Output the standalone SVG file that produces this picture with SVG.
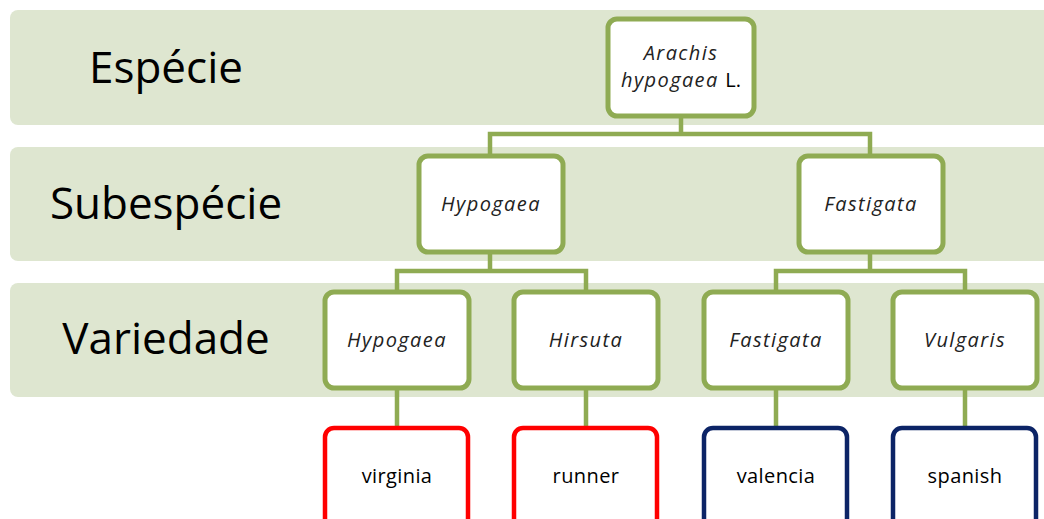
<svg xmlns="http://www.w3.org/2000/svg" width="1044" height="519" viewBox="0 0 1044 519">
<style>
.band{fill:#DEE6D0;}
.lvl{font-family:"Open Sans","Liberation Sans",sans-serif;font-size:44px;fill:#000;text-anchor:middle;}
.g{fill:#fff;stroke:#8FAB53;stroke-width:5;}
.r{fill:#fff;stroke:#FF0000;stroke-width:4.5;}
.b{fill:#fff;stroke:#0C2466;stroke-width:4.5;}
.t{font-family:"Open Sans","Liberation Sans",sans-serif;font-size:20px;letter-spacing:1.4px;font-style:italic;fill:#222;text-anchor:middle;}
.n{font-family:"Open Sans","Liberation Sans",sans-serif;font-size:20px;letter-spacing:0.4px;fill:#000;text-anchor:middle;}
.c{fill:none;stroke:#8FAB53;stroke-width:4.5;}
</style>
<rect class="band" x="10" y="10" width="1050" height="115" rx="8"/>
<rect class="band" x="10" y="147" width="1050" height="114" rx="8"/>
<rect class="band" x="10" y="283" width="1050" height="114" rx="8"/>
<text class="lvl" x="166" y="83">Espécie</text>
<text class="lvl" x="166" y="219">Subespécie</text>
<text class="lvl" x="166" y="354">Variedade</text>
<g id="connectors">
<path class="c" d="M681 116 V134 M490 155 V134 H870 V155"/>
<path class="c" d="M490 252 V271 M397 291 V271 H586 V291"/>
<path class="c" d="M870 252 V271 M776 291 V271 H965 V291"/>
<path class="c" d="M397 388 V428 M586 388 V428 M776 388 V428 M965 388 V428"/>
</g>
<g id="root"><rect class="g" x="608" y="19" width="146" height="97" rx="9"/>
<text class="t" x="681" y="60">Arachis</text>
<text class="t" x="681" y="87">hypogaea <tspan font-style="normal" fill="#000" letter-spacing="0">L.</tspan></text></g>
<g id="sub-hypogaea"><rect class="g" x="419" y="156" width="144" height="96" rx="9"/><text class="t" x="491" y="211">Hypogaea</text></g>
<g id="sub-fastigata"><rect class="g" x="799" y="156" width="144" height="96" rx="9"/><text class="t" x="871" y="211">Fastigata</text></g>
<g id="var-hypogaea"><rect class="g" x="325" y="292" width="144" height="96" rx="9"/><text class="t" x="397" y="347">Hypogaea</text></g>
<g id="var-hirsuta"><rect class="g" x="514" y="292" width="144" height="96" rx="9"/><text class="t" x="586" y="347">Hirsuta</text></g>
<g id="var-fastigata"><rect class="g" x="704" y="292" width="144" height="96" rx="9"/><text class="t" x="776" y="347">Fastigata</text></g>
<g id="var-vulgaris"><rect class="g" x="893" y="292" width="144" height="96" rx="9"/><text class="t" x="965" y="347">Vulgaris</text></g>
<g id="virginia"><rect class="r" x="325" y="428" width="143" height="110" rx="9"/><text class="n" x="397" y="483">virginia</text></g>
<g id="runner"><rect class="r" x="514" y="428" width="143" height="110" rx="9"/><text class="n" x="586" y="483">runner</text></g>
<g id="valencia"><rect class="b" x="704" y="428" width="143" height="110" rx="9"/><text class="n" x="776" y="483">valencia</text></g>
<g id="spanish"><rect class="b" x="893" y="428" width="143" height="110" rx="9"/><text class="n" x="965" y="483">spanish</text></g>
</svg>
